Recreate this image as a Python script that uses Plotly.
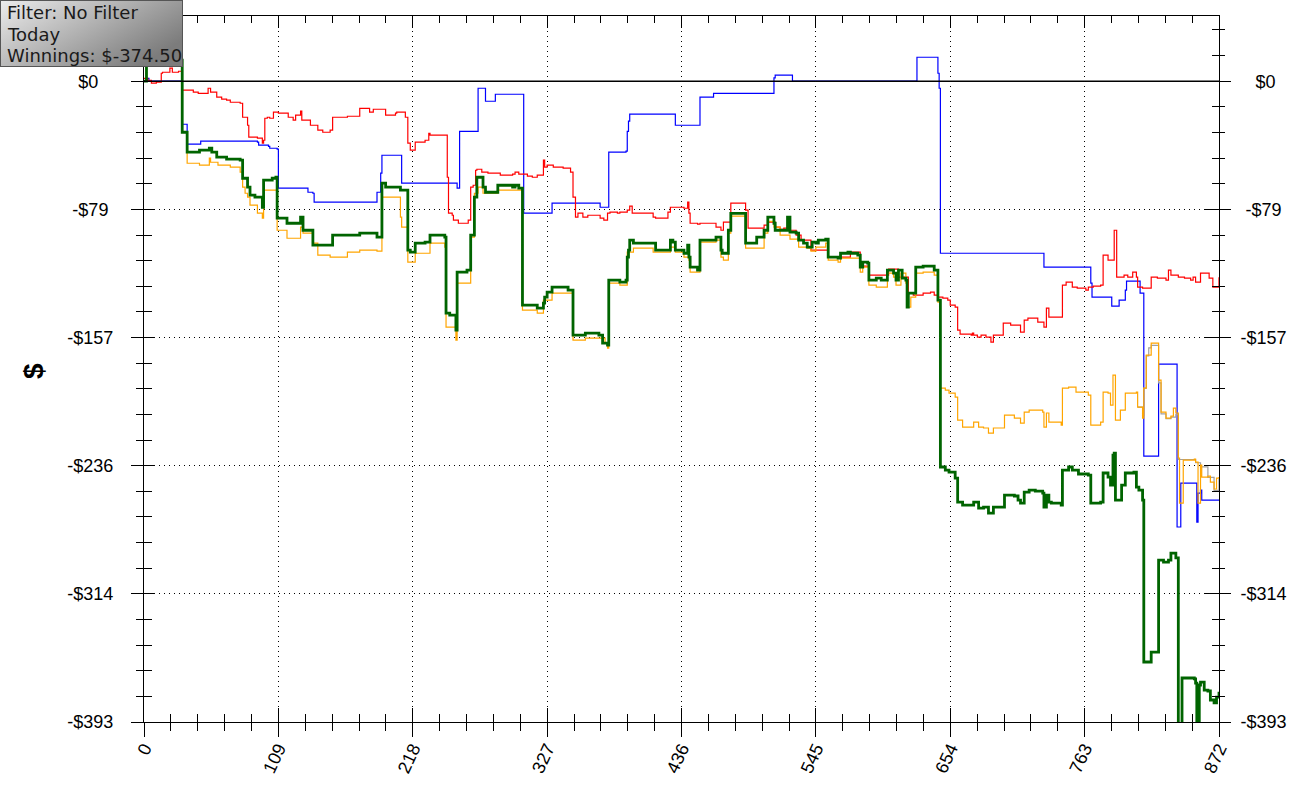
import base64

import plotly.graph_objects as go

# cumulative winnings per hand (step lines)
net_x = [0, 2, 31, 35, 45, 53, 55, 59, 67, 78, 80, 84, 86, 90, 96, 97, 104, 107, 108, 116, 127, 129,
         137, 153, 175, 189, 193, 196, 205, 208, 214, 216, 220, 228, 232, 244, 245, 248, 253, 254, 262,
         265, 268, 270, 275, 277, 287, 299, 301, 304, 307, 319, 324, 325, 327, 331, 344, 348, 358, 369,
         372, 376, 377, 386, 391, 392, 393, 394, 397, 415, 427, 429, 431, 438, 441, 442, 443, 449, 451,
         464, 468, 469, 474, 476, 488, 497, 503, 506, 511, 512, 522, 524, 529, 531, 535, 538, 542, 545,
         547, 553, 555, 563, 565, 571, 573, 579, 581, 583, 587, 588, 594, 598, 603, 608, 610, 612, 615,
         618, 619, 620, 626, 632, 641, 644, 646, 650, 653, 658, 660, 664, 673, 677, 681, 685, 689, 698,
         706, 709, 711, 714, 718, 723, 729, 730, 732, 734, 736, 744, 745, 750, 753, 758, 766, 768, 776,
         778, 782, 784, 786, 787, 788, 793, 796, 803, 805, 807, 810, 811, 817, 823, 827, 831, 833, 837,
         839, 842, 852, 853, 854, 856, 857, 860, 863, 865, 868, 870, 872]
net_y = [0, 12.9, -31.3, -43.5, -42.3, -41.1, -43.5, -46.6, -47.8, -48.4, -59.5, -65.0, -69.9, -71.1,
         -77.3, -60.7, -59.5, -58.9, -84.0, -87.1, -83.4, -91.4, -100.5, -94.4, -93.2, -95.6, -62.5,
         -65.0, -65.0, -66.8, -103.6, -104.8, -99.3, -98.7, -94.4, -95.6, -142.2, -143.5, -152.6, -117.1,
         -115.9, -94.4, -71.1, -58.9, -65.0, -68.1, -63.8, -65.0, -63.8, -65.6, -137.3, -139.2, -136.1,
         -132.4, -129.4, -126.3, -128.1, -155.7, -154.5, -155.7, -160.6, -161.9, -122.0, -123.2, -122.0,
         -107.9, -103.6, -97.5, -99.3, -103.6, -97.5, -98.7, -103.6, -105.5, -100.5, -107.9, -114.0,
         -115.9, -97.5, -95.6, -103.6, -105.5, -91.4, -81.0, -99.3, -95.6, -91.4, -83.4, -87.1, -91.4,
         -83.4, -92.6, -93.2, -97.5, -99.3, -101.8, -98.7, -99.3, -97.5, -96.9, -107.9, -108.5, -105.5,
         -104.8, -105.5, -106.7, -114.0, -111.0, -111.6, -122.0, -120.8, -122.0, -115.9, -117.7, -122.0,
         -115.9, -120.8, -122.0, -138.6, -130.0, -114.0, -113.4, -115.9, -134.3, -236.6, -238.5, -239.7,
         -243.4, -258.1, -260.0, -258.1, -261.8, -261.2, -264.9, -261.2, -253.8, -254.4, -256.9, -258.7,
         -252.0, -250.8, -251.4, -252.6, -261.2, -253.8, -258.1, -258.7, -260.0, -238.5, -236.6, -238.5,
         -240.9, -241.6, -258.7, -258.1, -240.3, -242.8, -247.7, -229.3, -228.1, -256.9, -247.7, -240.3,
         -239.7, -248.9, -250.8, -256.9, -356.2, -350.1, -293.7, -294.9, -293.7, -289.4, -292.4, -405.0,
         -366.0, -366.5, -369.1, -405.0, -370.3, -368.5, -373.4, -374.0, -379.5, -381.3, -377.7, -374.5]

ev_x = [0, 2, 31, 35, 45, 53, 54, 60, 70, 78, 80, 82, 84, 86, 92, 96, 97, 108, 116, 127, 129, 137, 141,
        151, 165, 175, 189, 193, 208, 209, 214, 220, 232, 244, 245, 253, 254, 265, 268, 271, 275, 287,
        307, 319, 324, 331, 348, 358, 374, 376, 377, 386, 392, 397, 413, 427, 431, 438, 442, 443, 451,
        464, 468, 470, 474, 476, 488, 503, 506, 511, 516, 524, 531, 538, 541, 545, 553, 555, 563, 565,
        581, 583, 588, 594, 603, 608, 610, 614, 618, 619, 622, 626, 632, 641, 644, 646, 650, 653, 658,
        660, 664, 673, 677, 681, 685, 689, 698, 706, 711, 714, 718, 729, 730, 732, 734, 744, 745, 750,
        756, 766, 768, 776, 778, 782, 784, 786, 788, 792, 796, 805, 806, 810, 811, 813, 817, 823, 825,
        829, 833, 835, 837, 839, 840, 843, 852, 853, 855, 857, 858, 863, 865, 868, 870, 872]
ev_y = [0, 12.9, -31.3, -50.3, -51.5, -47.2, -49.7, -51.5, -52.7, -55.8, -65.0, -68.7, -71.1, -76.0,
        -80.9, -84.0, -66.8, -91.4, -96.3, -89.5, -93.2, -99.3, -106.7, -107.9, -104.8, -103.6, -104.2,
        -71.1, -83.4, -89.5, -111.0, -105.5, -99.3, -101.8, -150.8, -158.8, -123.8, -95.6, -68.7, -65.0,
        -68.7, -66.8, -140.4, -142.2, -134.3, -130.0, -158.8, -157.6, -160.6, -163.7, -123.8, -125.1,
        -104.8, -102.4, -104.8, -101.8, -104.8, -107.9, -109.7, -117.1, -98.7, -97.5, -107.9, -109.7,
        -93.2, -82.8, -102.4, -93.2, -86.0, -89.5, -94.4, -96.9, -101.8, -102.4, -104.2, -101.8, -99.3,
        -109.7, -111.0, -108.5, -117.1, -114.0, -125.1, -126.3, -117.7, -120.2, -125.1, -117.7, -123.8,
        -138.6, -132.4, -117.7, -117.1, -118.9, -135.5, -188.2, -189.4, -191.3, -193.7, -207.8, -212.1,
        -209.1, -212.1, -212.7, -215.8, -212.7, -204.8, -206.6, -209.7, -202.9, -201.7, -202.9, -212.1,
        -203.5, -209.1, -210.9, -188.2, -187.6, -190.7, -192.5, -210.9, -209.1, -190.7, -191.3, -198.6,
        -180.3, -207.8, -201.7, -191.3, -190.7, -199.9, -206.6, -188.2, -168.0, -160.6, -183.3, -202.9,
        -206.6, -205.4, -200.5, -203.5, -231.1, -258.7, -232.4, -231.7, -233.6, -258.7, -235.4, -242.8,
        -242.2, -245.9, -250.1, -243.4, -242.8]

nsd_x = [0, 3, 6, 10, 14, 15, 21, 23, 28, 31, 40, 44, 52, 54, 59, 63, 67, 70, 78, 80, 84, 85, 92, 96,
         97, 98, 100, 102, 105, 109, 117, 121, 123, 127, 128, 135, 141, 145, 151, 153, 165, 175, 183,
         186, 193, 196, 204, 205, 212, 214, 216, 220, 228, 231, 232, 246, 247, 250, 251, 255, 263, 265,
         267, 269, 270, 274, 279, 289, 299, 301, 304, 311, 315, 319, 324, 325, 327, 332, 340, 346, 348,
         350, 352, 356, 360, 370, 373, 376, 378, 384, 386, 392, 394, 396, 411, 413, 415, 425, 427, 438,
         441, 442, 443, 449, 451, 464, 468, 470, 476, 488, 490, 503, 506, 512, 516, 519, 522, 524, 529,
         533, 541, 555, 573, 581, 588, 604, 612, 620, 624, 632, 638, 641, 644, 648, 652, 654, 658, 660,
         662, 671, 672, 673, 676, 679, 683, 687, 689, 697, 703, 711, 714, 717, 725, 730, 732, 734, 745,
         748, 753, 757, 764, 766, 770, 776, 778, 782, 787, 789, 795, 798, 802, 805, 806, 810, 815, 817,
         822, 829, 831, 833, 839, 844, 849, 851, 853, 857, 863, 864, 867, 870, 872]
nsd_y = [1.8, 0.6, -1.2, -0.6, 4.9, 5.5, 8.0, 5.5, 6.1, -5.5, -6.7, -7.4, -4.3, -6.7, -9.8, -11.0,
         -11.6, -12.9, -13.5, -22.1, -27.0, -34.3, -34.9, -38.0, -36.2, -22.7, -22.1, -22.7, -19.0,
         -19.6, -22.1, -23.9, -20.8, -18.4, -23.9, -27.0, -30.0, -31.3, -30.0, -22.1, -21.5, -16.6,
         -19.0, -17.2, -17.2, -20.8, -19.6, -19.0, -22.1, -38.0, -42.3, -37.4, -36.2, -31.9, -33.1,
         -58.9, -80.9, -82.2, -85.2, -87.1, -85.2, -65.0, -63.8, -54.6, -54.0, -55.8, -56.4, -57.6,
         -57.0, -55.8, -57.0, -58.2, -58.9, -57.6, -48.4, -52.7, -51.5, -52.7, -53.3, -55.8, -71.1,
         -83.4, -80.9, -83.4, -82.2, -84.0, -85.2, -80.9, -80.3, -80.9, -80.3, -79.1, -76.6, -80.9,
         -80.9, -83.4, -84.0, -80.3, -77.3, -77.9, -74.2, -80.9, -87.1, -87.7, -87.1, -89.5, -91.4,
         -86.4, -74.8, -79.1, -90.1, -88.3, -86.4, -89.5, -90.8, -90.1, -88.3, -91.4, -94.4, -97.5,
         -103.6, -107.9, -104.8, -113.4, -118.9, -115.2, -120.2, -130.0, -131.2, -130.0, -129.4, -131.2,
         -132.4, -133.0, -134.3, -137.3, -138.6, -152.6, -155.1, -155.7, -154.5, -155.7, -157.0, -155.7,
         -157.0, -160.0, -155.7, -148.4, -149.6, -153.9, -146.5, -145.3, -147.8, -150.8, -139.2, -144.7,
         -125.1, -123.2, -126.3, -126.9, -128.1, -126.3, -125.7, -125.1, -106.7, -109.7, -91.4, -120.2,
         -118.9, -120.2, -117.1, -120.2, -126.3, -126.9, -126.9, -120.2, -120.8, -122.0, -115.9, -118.9,
         -120.2, -120.8, -122.0, -120.2, -123.2, -117.7, -117.7, -120.8, -126.3, -126.3, -120.2]

sd_x = [0, 2, 4, 31, 35, 46, 92, 93, 101, 102, 108, 109, 132, 133, 137, 138, 188, 189, 192, 193, 208,
        209, 253, 254, 256, 270, 271, 275, 277, 283, 285, 307, 308, 330, 331, 369, 370, 376, 377, 391,
        392, 393, 394, 429, 431, 450, 451, 461, 462, 510, 511, 512, 524, 526, 626, 627, 643, 644, 645,
        646, 729, 730, 767, 768, 769, 784, 785, 790, 791, 795, 796, 797, 807, 808, 810, 811, 822, 823,
        837, 838, 840, 841, 853, 854, 855, 857, 858, 872]
sd_y = [0, 1.8, 0, -26.4, -38.6, -36.8, -37.4, -39.2, -39.9, -41.1, -41.7, -65.6, -65.6, -68.1, -68.7,
        -74.2, -74.2, -68.1, -56.4, -45.4, -45.4, -62.5, -62.5, -65.6, -30.7, -30.7, -4.3, -4.3, -12.3,
        -12.3, -8.0, -8.0, -80.9, -80.9, -74.8, -74.8, -77.3, -77.3, -43.5, -42.9, -30.7, -24.5, -20.2,
        -20.2, -27.0, -27.0, -9.8, -9.8, -7.4, -7.4, 2.0, 3.7, 3.7, 0, 0, 14.7, 14.7, 4.9, -4.3, -105.5,
        -105.5, -114.0, -114.0, -123.8, -132.4, -132.4, -137.9, -137.9, -134.3, -134.3, -128.1, -122.6,
        -122.6, -130.0, -130.0, -229.9, -229.9, -173.5, -173.5, -273.4, -273.4, -246.5, -246.5, -270.4,
        -252.6, -250.8, -256.9, -256.9]

gray_x = [806, 810, 811, 813, 815, 817, 823, 825, 829, 833, 837, 839, 853, 857, 863, 868, 872]
gray_y = [-199.9, -205.0, -188.2, -168.5, -163.5, -162.0, -185.0, -204.0, -207.0, -206.0, -204.5,
          -232.0, -234.0, -236.5, -243.0, -251.0, -244.0]

hand_ticks = [0, 109, 218, 327, 436, 545, 654, 763, 872]
money_ticks = [0, -78.6, -157.2, -235.8, -314.4, -393]
money_labels = ["$0", "-$79", "-$157", "-$236", "-$314", "-$393"]
pad = {"$0": 3, "-$79": 1}

filter_lines = ["Filter: No Filter", "Today", "Winnings: $-374.50"]

NB = "\u00a0"
left_text = [t + NB * pad.get(t, 0) for t in money_labels]
right_text = [NB * pad.get(t, 0) + t for t in money_labels]

FONT = "Liberation Sans, Arial, sans-serif"
XR = [0, 872]
YR = [-393, 40]
PW, PH = 1075, 706  # plot area in px

fig = go.Figure()
for xs, ys, color, width in [
    (sd_x, sd_y, "#0000ff", 1.2),
    (nsd_x, nsd_y, "#ff0000", 1.2),
    (gray_x, gray_y, "#a0a0a0", 1.2),
    (ev_x, ev_y, "#ffa500", 1.2),
    (net_x, net_y, "#006400", 2.8),
]:
    fig.add_trace(go.Scatter(
        x=xs, y=ys, mode="lines", line=dict(color=color, width=width, shape="hv"),
        showlegend=False, hoverinfo="skip",
    ))

# empty traces so the extra tick axes get drawn
for xa, ya in [("x2", "y2"), ("x3", "y3"), ("x3", "y4")]:
    fig.add_trace(go.Scatter(x=[], y=[], xaxis=xa, yaxis=ya, showlegend=False, hoverinfo="skip"))

tickfont = dict(family=FONT, size=18, color="black")
grid = dict(showgrid=True, gridcolor="black", gridwidth=1, griddash="1px,4px")
xminor = dict(tick0=0, dtick=21.8, tickcolor="black", showgrid=False)
yminor = dict(tick0=0, dtick=15.72, tickcolor="black", showgrid=False)

fig.update_layout(
    width=1304, height=794,
    margin=dict(l=144, r=85, t=16, b=72),
    paper_bgcolor="white", plot_bgcolor="white",
    xaxis=dict(range=XR, tickmode="array", tickvals=hand_ticks, ticks="outside", ticklen=14,
               tickcolor="black", tickangle=-65, tickfont=tickfont, ticklabelstandoff=-6,
               showline=True, linecolor="black", linewidth=1, zeroline=False,
               minor=dict(ticks="outside", ticklen=8, **xminor), **grid),
    xaxis2=dict(range=XR, overlaying="x", anchor="y", side="bottom", tickmode="array",
                tickvals=hand_ticks, ticks="inside", ticklen=14, tickcolor="black",
                showticklabels=False, showgrid=False, zeroline=False, showline=False,
                minor=dict(ticks="inside", ticklen=8, **xminor)),
    xaxis3=dict(range=XR, overlaying="x", anchor="y", side="top", tickmode="array",
                tickvals=hand_ticks, ticks="inside", ticklen=12, tickcolor="black",
                showticklabels=False, showgrid=False, zeroline=False, showline=True,
                linecolor="black", linewidth=1,
                minor=dict(ticks="inside", ticklen=7, **xminor)),
    yaxis=dict(range=YR, tickmode="array", tickvals=money_ticks, ticktext=left_text,
               ticks="outside", ticklen=12, tickcolor="black", tickfont=tickfont,
               ticklabelstandoff=14, showline=True, linecolor="black", linewidth=1,
               zeroline=False, minor=dict(ticks="outside", ticklen=7, **yminor), **grid),
    yaxis2=dict(range=YR, overlaying="y", anchor="x", side="left", tickmode="array",
                tickvals=money_ticks, ticks="inside", ticklen=11, tickcolor="black",
                showticklabels=False, showgrid=False, zeroline=False,
                minor=dict(ticks="inside", ticklen=8, **yminor)),
    yaxis3=dict(range=YR, overlaying="y", anchor="x", side="right", tickmode="array",
                tickvals=money_ticks, ticktext=right_text, ticks="outside", ticklen=11,
                tickcolor="black", tickfont=tickfont, ticklabelstandoff=6, showgrid=False,
                zeroline=False, showline=True, linecolor="black", linewidth=1,
                minor=dict(ticks="outside", ticklen=5, **yminor)),
    yaxis4=dict(range=YR, overlaying="y", anchor="x", side="right", tickmode="array",
                tickvals=money_ticks, ticks="inside", ticklen=14, tickcolor="black",
                showticklabels=False, showgrid=False, zeroline=False,
                minor=dict(ticks="inside", ticklen=7, **yminor)),
)

# zero line drawn over the traces
fig.add_shape(type="line", xref="paper", x0=0, x1=1, yref="y", y0=0, y1=0,
              line=dict(color="black", width=1.4), layer="above")

# axis title
fig.add_annotation(text="<b>$</b>", xref="paper", yref="paper", x=-111 / PW, y=0.497,
                   xanchor="center", yanchor="middle", textangle=-90, showarrow=False,
                   font=dict(family=FONT, size=28, color="black"))

# grey filter box in the corner
box_svg = (
    '<svg xmlns="http://www.w3.org/2000/svg" width="183" height="67" viewBox="0 0 183 67" '
    'preserveAspectRatio="none">'
    '<defs><linearGradient id="g" x1="0" y1="0" x2="1" y2="0.6">'
    '<stop offset="0" stop-color="#ececec"/><stop offset="1" stop-color="#7c7c7c"/>'
    '</linearGradient></defs>'
    '<rect x="0.5" y="0.5" width="182" height="66" fill="url(#g)" stroke="#555555"/></svg>'
)
fig.add_layout_image(
    source="data:image/svg+xml;base64," + base64.b64encode(box_svg.encode()).decode(),
    xref="paper", yref="paper", x=-144 / PW, y=1 + 16 / PH,
    sizex=183 / PW, sizey=67 / PH, sizing="stretch", xanchor="left", yanchor="top",
    layer="above",
)
for i, line in enumerate(filter_lines):
    fig.add_annotation(text=line, xref="paper", yref="paper",
                       x=-138 / PW, y=1 + (16 - 13 - 21 * i) / PH, xanchor="left",
                       yanchor="middle", showarrow=False, borderpad=0,
                       font=dict(family="DejaVu Sans, Verdana, sans-serif", size=18,
                                 color="#1a1a1a"))

fig.write_html("out.html", config={"displayModeBar": False},
               post_script="document.body.style.margin = '0';")
